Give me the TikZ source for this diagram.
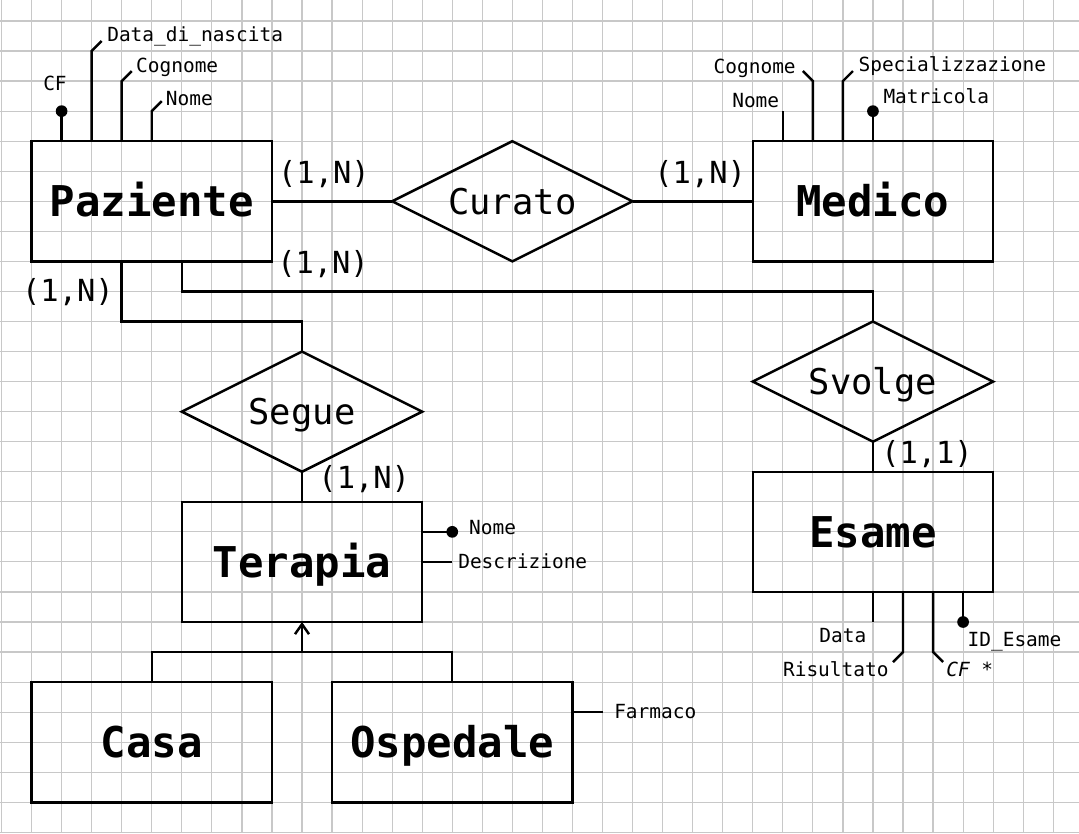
\documentclass[tikz,border=0pt]{standalone}
\usepackage{fontspec}
\newfontfamily\dvm{DejaVu Sans Mono}
\usetikzlibrary{shapes.geometric,arrows.meta,calc}
\definecolor{gridc}{RGB}{200,200,200}
\begin{document}
\begin{tikzpicture}[x=22.5375pt,y=-22.5375pt,line width=1.85pt,
  ent/.style={draw,rectangle,minimum width=180.3pt,minimum height=90.15pt,inner sep=0pt,outer sep=0pt,
    font=\dvm\bfseries\fontsize{31.8}{36}\selectfont,text height=23.2pt,text depth=0pt},
  rel/.style={draw,diamond,aspect=2,minimum width=180.3pt,minimum height=90.15pt,inner sep=0pt,outer sep=0pt,
    font=\dvm\fontsize{26.6}{30}\selectfont,text height=19.4pt,text depth=0pt},
  card/.style={inner sep=0pt,anchor=base,font=\dvm\fontsize{22.8}{26}\selectfont},
  attr/.style={inner sep=0pt,font=\dvm\fontsize{14.6}{17}\selectfont},
  dot/.style={fill,circle,inner sep=0pt,minimum size=8.8pt}]
% background and grid
\fill[white] (-0.0499,-0.6988) rectangle (35.857,27.022);
\useasboundingbox (-0.0499,-0.6988) rectangle (35.857,27.022);
\foreach \gx in {0,...,35} \draw[gridc,line width=0.9pt] (\gx,-0.6988) -- (\gx,27.022);
\foreach \gy in {0,...,27} \draw[gridc,line width=0.9pt] (-0.0499,\gy) -- (35.857,\gy);
% entities and relationships
\node[ent] (paz) at (5,6) {Paziente};
\node[rel] (cur) at (17,6) {Curato};
\node[ent] (med) at (29,6) {Medico};
\node[rel] (svo) at (29,12) {Svolge};
\node[ent] (esa) at (29,17) {Esame};
\node[rel] (seg) at (10,13) {Segue};
\node[ent] (ter) at (10,18) {Terapia};
\node[ent] (cas) at (5,24) {Casa};
\node[ent] (osp) at (15,24) {Ospedale};
% connectors
\draw (paz.east) -- (cur.west);
\draw (cur.east) -- (med.west);
\draw ($(paz.south west)+(3,0)$) -- ++(0,2) -| (seg.north);
\draw ($(paz.south west)+(5,0)$) -- ++(0,1) -| (svo.north);
\draw (seg.south) -- (ter.north);
\draw (svo.south) -- (esa.north);
\draw (cas.north) -- ++(0,-1) -| (osp.north);
\coordinate (gen) at ($(cas.north)!0.5!(osp.north)+(0,-1)$);
\draw[-{Straight Barb[length=7.5pt,width=10.5pt]}] (gen) -- (ter.south);
% cardinalities
\node[card] (c1) at (10.73,5.40) {(1,N)};
\node[card] (c2) at (23.25,5.40) {(1,N)};
\node[card] (c3) at (10.70,8.40) {(1,N)};
\node[card] (c4) at (2.21,9.32) {(1,N)};
\node[card] (c5) at (12.07,15.57) {(1,N)};
\node[card] (c6) at (30.80,14.74) {(1,1)};
% Paziente attributes
\draw ($(paz.north west)+(1,0)$) -- ++(0,-1) node[dot] (pcfdot) {};
\node[attr,anchor=base] (pcf) at (1.78,2.32) {CF};
\draw ($(paz.north west)+(2,0)$) -- ++(0,-3) -- ++(1/3,-1/3) coordinate (pdnend);
\node[attr,anchor=base west] (pdn) at (3.48,0.689) {Data\_di\_nascita};
\draw ($(paz.north west)+(3,0)$) -- ++(0,-2) -- ++(1/3,-1/3) coordinate (pcgend);
\node[attr,anchor=base west] (pcg) at (4.44,1.72) {Cognome};
\draw ($(paz.north west)+(4,0)$) -- ++(0,-1) -- ++(1/3,-1/3) coordinate (pnmend);
\node[attr,anchor=base west] (pnm) at (5.43,2.805) {Nome};
% Medico attributes
\draw ($(med.north west)+(1,0)$) -- ++(0,-1) coordinate (mnmend);
\node[attr,anchor=base east] (mnm) at (25.92,2.872) {Nome};
\draw ($(med.north west)+(2,0)$) -- ++(0,-2) -- ++(-1/3,-1/3) coordinate (mcgend);
\node[attr,anchor=base east] (mcg) at (26.47,1.763) {Cognome};
\draw ($(med.north west)+(3,0)$) -- ++(0,-2) -- ++(1/3,-1/3) coordinate (mspend);
\node[attr,anchor=base west] (msp) at (28.48,1.687) {Specializzazione};
\draw ($(med.north west)+(4,0)$) -- ++(0,-1) node[dot] (mmadot) {};
\node[attr,anchor=base west] (mma) at (29.31,2.739) {Matricola};
% Esame attributes
\draw ($(esa.south west)+(4,0)$) -- ++(0,1) coordinate (edaend);
\node[attr,anchor=base east] (eda) at (28.82,20.69) {Data};
\draw ($(esa.south west)+(5,0)$) -- ++(0,2) -- ++(-1/3,1/3) coordinate (eriend);
\node[attr,anchor=base east] (eri) at (29.56,21.82) {Risultato};
\draw ($(esa.south west)+(6,0)$) -- ++(0,2) -- ++(1/3,1/3) coordinate (ecfend);
\node[attr,anchor=base west] (ecf) at (31.40,21.82) {\itshape CF *};
\draw ($(esa.south west)+(7,0)$) -- ++(0,1) node[dot] (eiddot) {};
\node[attr,anchor=base west] (eid) at (32.11,20.82) {ID\_Esame};
% Terapia attributes
\draw ($(ter.north east)+(0,1)$) -- ++(1,0) node[dot] (tnmdot) {};
\node[attr,anchor=base west] (tnm) at (15.52,17.10) {Nome};
\draw ($(ter.north east)+(0,2)$) -- ++(1,0) coordinate (tdsend);
\node[attr,anchor=base west] (tds) at (15.16,18.21) {Descrizione};
% Ospedale attribute
\draw ($(osp.north east)+(0,1)$) -- ++(1,0) coordinate (ofaend);
\node[attr,anchor=base west] (ofa) at (20.35,23.20) {Farmaco};
\end{tikzpicture}
\end{document}
